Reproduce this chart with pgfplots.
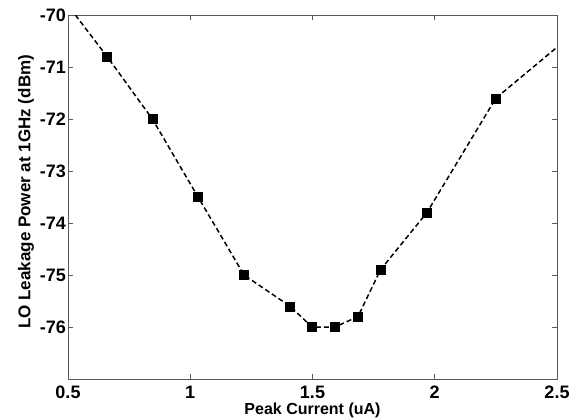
\documentclass[border=0pt]{standalone}
\usepackage{pgfplots}
\pgfplotsset{compat=1.18}
\usepackage{fontspec}
\setmainfont{Liberation Sans}
\begin{document}
\begin{tikzpicture}
\useasboundingbox (-68bp,-41bp) rectangle (511bp,379bp);
\begin{axis}[
  scale only axis, width=489bp, height=364bp,
  xmin=0.5, xmax=2.5, ymin=-77, ymax=-70,
  xtick={0.5,1,1.5,2,2.5}, xticklabels={0.5,1,1.5,2,2.5},
  ytick={-76,-75,-74,-73,-72,-71,-70},
  yticklabels={-76,-75,-74,-73,-72,-71,-70},
  tick align=inside, major tick length=5bp,
  tick style={gray!70!black, line width=0.6bp},
  axis line style={gray!70!black, line width=0.8bp},
  ticklabel style={font=\fontsize{18bp}{20bp}\selectfont\bfseries, inner sep=0pt},
  xticklabel style={yshift=-7bp},
  yticklabel style={xshift=-2bp},
  xlabel={Peak Current (uA)}, ylabel={LO Leakage Power at 1GHz (dBm)},
  xlabel style={font=\fontsize{16bp}{18bp}\selectfont\bfseries, at={(axis description cs:0.5,-0.0962)}, anchor=base, inner sep=0pt},
  ylabel style={font=\fontsize{17bp}{19bp}\selectfont\bfseries, at={(axis description cs:-0.0859,0.514)}, anchor=center, inner sep=0pt},
]
\addplot[black, line width=1.5bp, dash pattern=on 5bp off 3bp] coordinates {
  (0.53,-70.0) (0.66,-70.8) (0.845,-72.0) (1.032,-73.5) (1.22,-75.0)
  (1.408,-75.6) (1.498,-76.0) (1.592,-76.0) (1.686,-75.8) (1.778,-74.9)
  (1.968,-73.8) (2.25,-71.6) (2.5,-70.62)};
\addplot[only marks, mark=square*, mark size=4.5bp, black] coordinates {
  (0.66,-70.8) (0.845,-72.0) (1.032,-73.5) (1.22,-75.0)
  (1.408,-75.6) (1.498,-76.0) (1.592,-76.0) (1.686,-75.8) (1.778,-74.9)
  (1.968,-73.8) (2.25,-71.6)};
\end{axis}
\end{tikzpicture}
\end{document}
